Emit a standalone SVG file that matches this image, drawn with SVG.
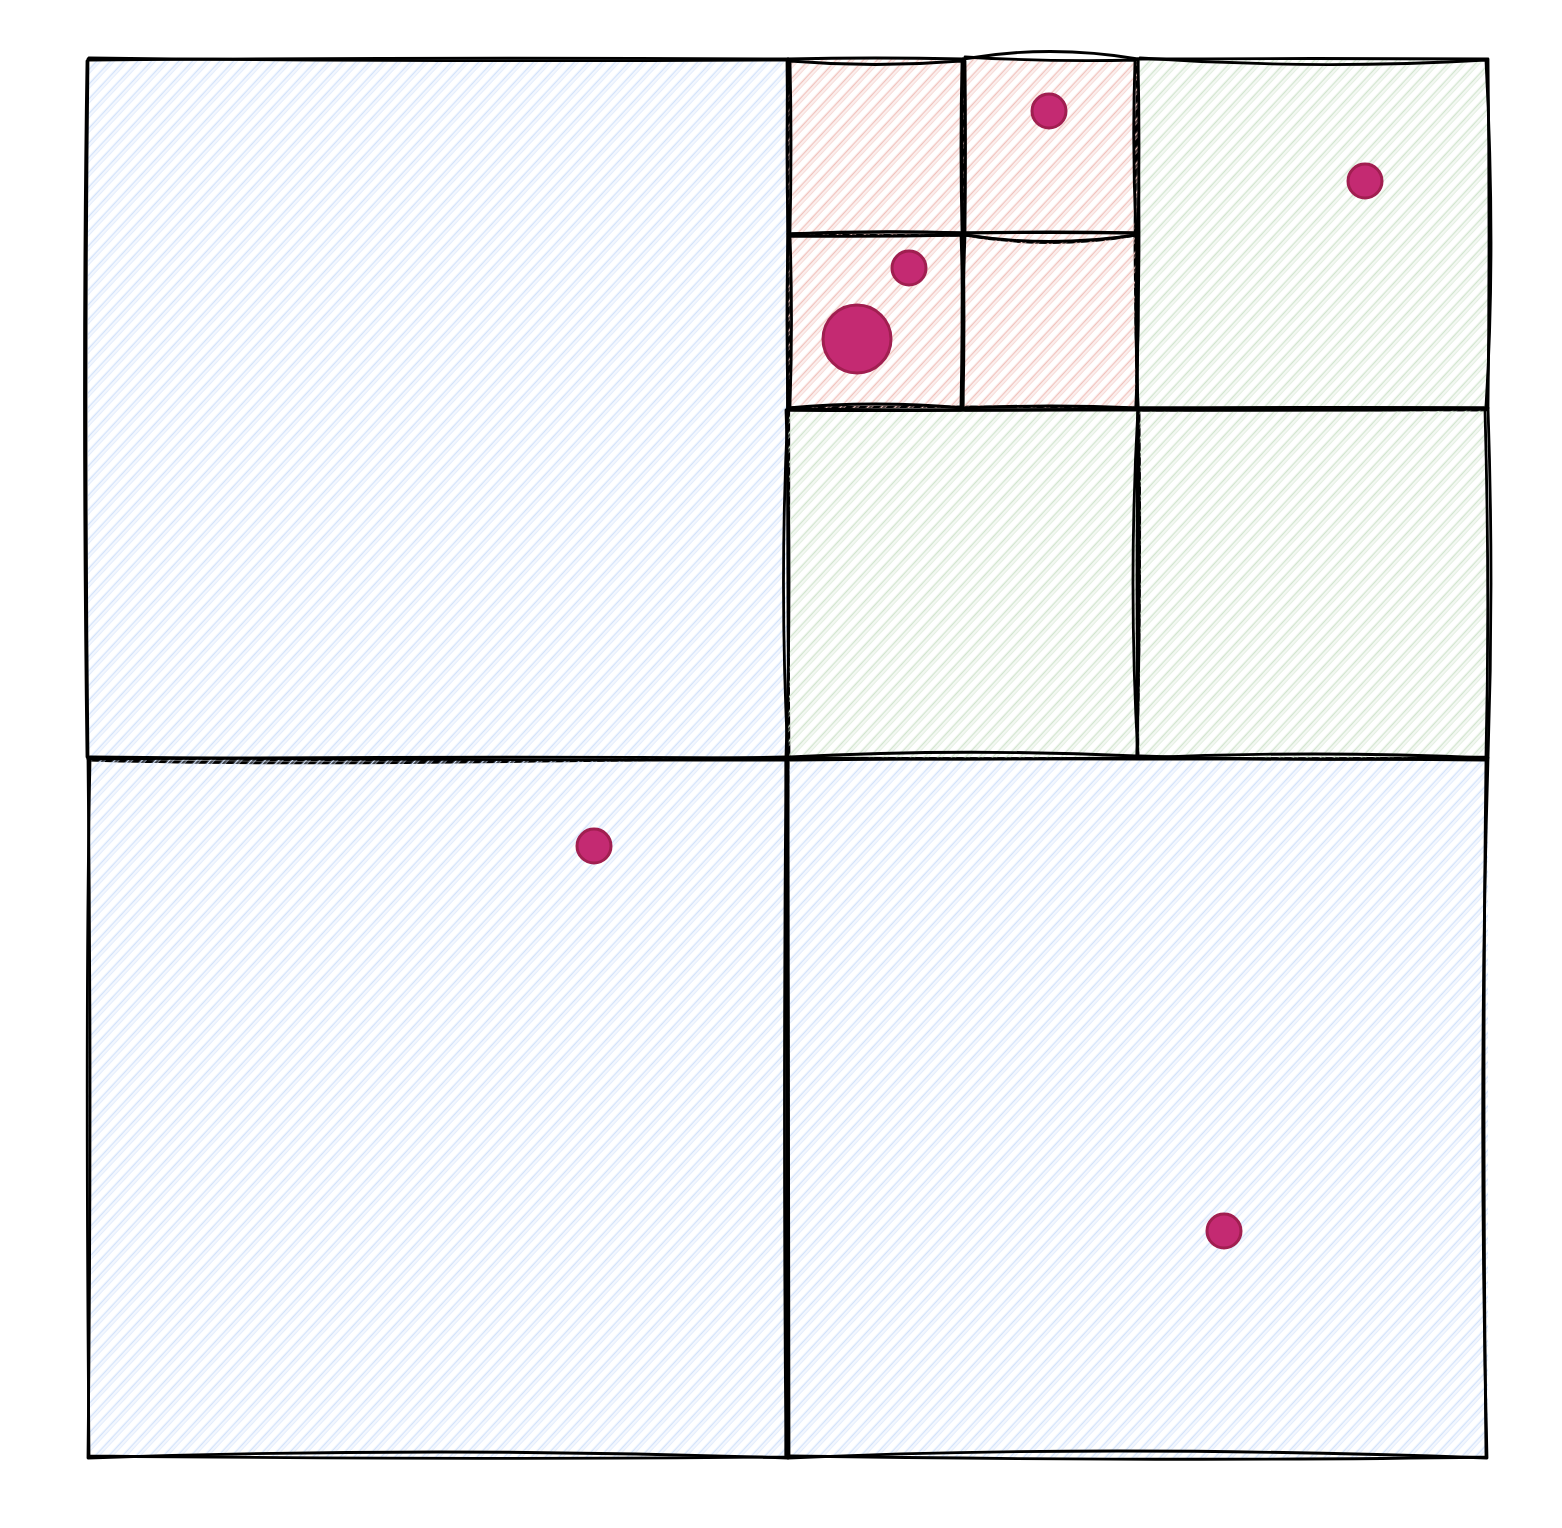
<svg xmlns="http://www.w3.org/2000/svg" width="1562" height="1528" viewBox="0 0 1562 1528">
<defs>
<pattern id="hb" width="10" height="10" patternUnits="userSpaceOnUse" patternTransform="rotate(-47)">
<line x1="-1" y1="2.5" x2="11" y2="2.5" stroke="#d3e2fa" stroke-width="1.6"/>
<line x1="-1" y1="5.2" x2="11" y2="5.2" stroke="#d3e2fa" stroke-width="1.1" opacity="0.8"/>
</pattern>
<pattern id="hr" width="10" height="10" patternUnits="userSpaceOnUse" patternTransform="rotate(-47)">
<line x1="-1" y1="2.5" x2="11" y2="2.5" stroke="#f0c3bd" stroke-width="1.6"/>
<line x1="-1" y1="5.2" x2="11" y2="5.2" stroke="#f0c3bd" stroke-width="1.1" opacity="0.8"/>
</pattern>
<pattern id="hg" width="10" height="10" patternUnits="userSpaceOnUse" patternTransform="rotate(-47)">
<line x1="-1" y1="2.5" x2="11" y2="2.5" stroke="#d2e5cf" stroke-width="1.6"/>
<line x1="-1" y1="5.2" x2="11" y2="5.2" stroke="#d2e5cf" stroke-width="1.1" opacity="0.8"/>
</pattern>
</defs>
<style>
.fb{fill:url(#hb);stroke:none}
.fr{fill:url(#hr);stroke:none}
.fg{fill:url(#hg);stroke:none}
.ed{fill:none;stroke:#000;stroke-width:2.8;stroke-linecap:round;stroke-linejoin:round}
.pt{fill:#c42a72;stroke:#a01f50;stroke-width:3}
</style>
<rect width="1562" height="1528" fill="#ffffff"/>

<g id="cell-tl">
<rect class="fb" x="88" y="59" width="700" height="700"/>
<path class="ed" d="M88,60 Q440,57 788,59 M787,59 Q790,400 788,758 M788,759 Q440,762 88,758 M88,759 Q84,400 88,59"/>
<path class="ed" d="M89,58 Q400,62 786,60 M789,61 Q786,420 789,757 M786,757 Q300,767 89,760 M87,757 Q82,380 87,61"/>
</g>

<g id="cell-bl">
<rect class="fb" x="88" y="758" width="700" height="700"/>
<path class="ed" d="M88,759 Q440,756 788,758 M788,758 Q786,1100 788,1458 M788,1458 Q440,1446 88,1458 M88,1458 Q92,1100 88,758"/>
<path class="ed" d="M90,757 Q420,760 786,760 M786,760 Q790,1110 786,1456 M786,1457 Q500,1460 90,1456 M89,1456 Q85,1000 90,760"/>
</g>

<g id="cell-br">
<rect class="fb" x="788" y="758" width="700" height="700"/>
<path class="ed" d="M788,758 Q1140,760 1488,758 M1488,759 Q1478,1100 1487,1458 M1487,1458 Q1100,1444 788,1458 M789,1458 Q790,1100 788,758"/>
<path class="ed" d="M790,760 Q1100,757 1486,760 M1486,760 Q1482,1080 1486,1456 M1486,1457 Q1200,1462 790,1456 M786,1456 Q783,1120 786,760"/>
</g>

<g id="cell-ne">
<rect class="fg" x="1138" y="59" width="350" height="350"/>
<path class="ed" d="M1138,59 Q1313,58 1488,59 M1488,59 Q1490,234 1488,408 M1488,408 Q1313,407 1138,408 M1138,408 Q1132,234 1138,59"/>
<path class="ed" d="M1140,58 Q1313,70 1486,60 M1486,61 Q1496,250 1486,406 M1486,410 Q1300,409 1140,410 M1136,406 Q1142,230 1136,61"/>
</g>

<g id="cell-sw">
<rect class="fg" x="788" y="408" width="350" height="350"/>
<path class="ed" d="M788,408 Q963,406 1138,408 M1138,408 Q1136,583 1138,758 M1138,758 Q963,760 788,758 M788,758 Q779,583 788,408"/>
<path class="ed" d="M790,410 Q963,411 1136,409 M1139,410 Q1141,590 1137,756 M1136,756 Q960,748 790,757 M786,756 Q792,580 786,410"/>
</g>

<g id="cell-se">
<rect class="fg" x="1138" y="408" width="350" height="350"/>
<path class="ed" d="M1138,408 Q1313,407 1488,408 M1488,408 Q1494,583 1488,758 M1488,758 Q1313,750 1138,758 M1138,758 Q1128,583 1138,408"/>
<path class="ed" d="M1140,410 Q1313,411 1486,409 M1485,410 Q1490,590 1486,756 M1486,757 Q1313,762 1140,756 M1137,756 Q1141,583 1138,410"/>
</g>

<g id="cell-r1">
<rect class="fr" x="788" y="59" width="175" height="175"/>
<path class="ed" d="M788,59 Q875,57 963,59 M963,59 Q965,146 963,233 M963,233 Q875,230 788,234 M788,234 Q786,146 788,59"/>
<path class="ed" d="M790,61 Q875,68 961,61 M962,61 Q960,146 962,232 M961,235 Q875,236 790,235 M790,232 Q792,146 790,61"/>
</g>

<g id="cell-r2">
<rect class="fr" x="963" y="59" width="175" height="175"/>
<path class="ed" d="M963,59 Q1050,44 1138,59 M1138,59 Q1140,146 1138,233 M1138,233 Q1050,231 963,233 M963,233 Q961,146 963,59"/>
<path class="ed" d="M965,57 Q1050,62 1136,60 M1135,61 Q1132,146 1136,232 M1136,235 Q1050,250 965,235 M965,232 Q966,146 965,61"/>
</g>

<g id="cell-r3">
<rect class="fr" x="788" y="233" width="175" height="175"/>
<path class="ed" d="M788,234 Q875,231 963,233 M963,233 Q961,320 963,408 M963,408 Q875,400 788,408 M788,408 Q786,320 788,234"/>
<path class="ed" d="M790,236 Q875,237 961,235 M961,235 Q964,320 962,406 M961,410 Q875,411 790,410 M790,406 Q793,320 790,236"/>
</g>

<g id="cell-r4">
<rect class="fr" x="963" y="233" width="175" height="175"/>
<path class="ed" d="M963,233 Q1050,232 1138,233 M1138,233 Q1134,320 1138,408 M1138,408 Q1050,404 963,408 M963,408 Q965,320 963,233"/>
<path class="ed" d="M965,235 Q1050,248 1136,235 M1136,235 Q1140,320 1136,406 M1136,410 Q1050,410 965,410 M961,406 Q962,320 965,235"/>
</g>

<g id="points">
<circle class="pt" cx="1049" cy="111" r="17"/>
<circle class="pt" cx="1365" cy="181" r="17"/>
<circle class="pt" cx="909" cy="268" r="17"/>
<circle class="pt" cx="857" cy="339" r="34"/>
<circle class="pt" cx="594" cy="846" r="17"/>
<circle class="pt" cx="1224" cy="1231" r="17"/>
</g>
</svg>
